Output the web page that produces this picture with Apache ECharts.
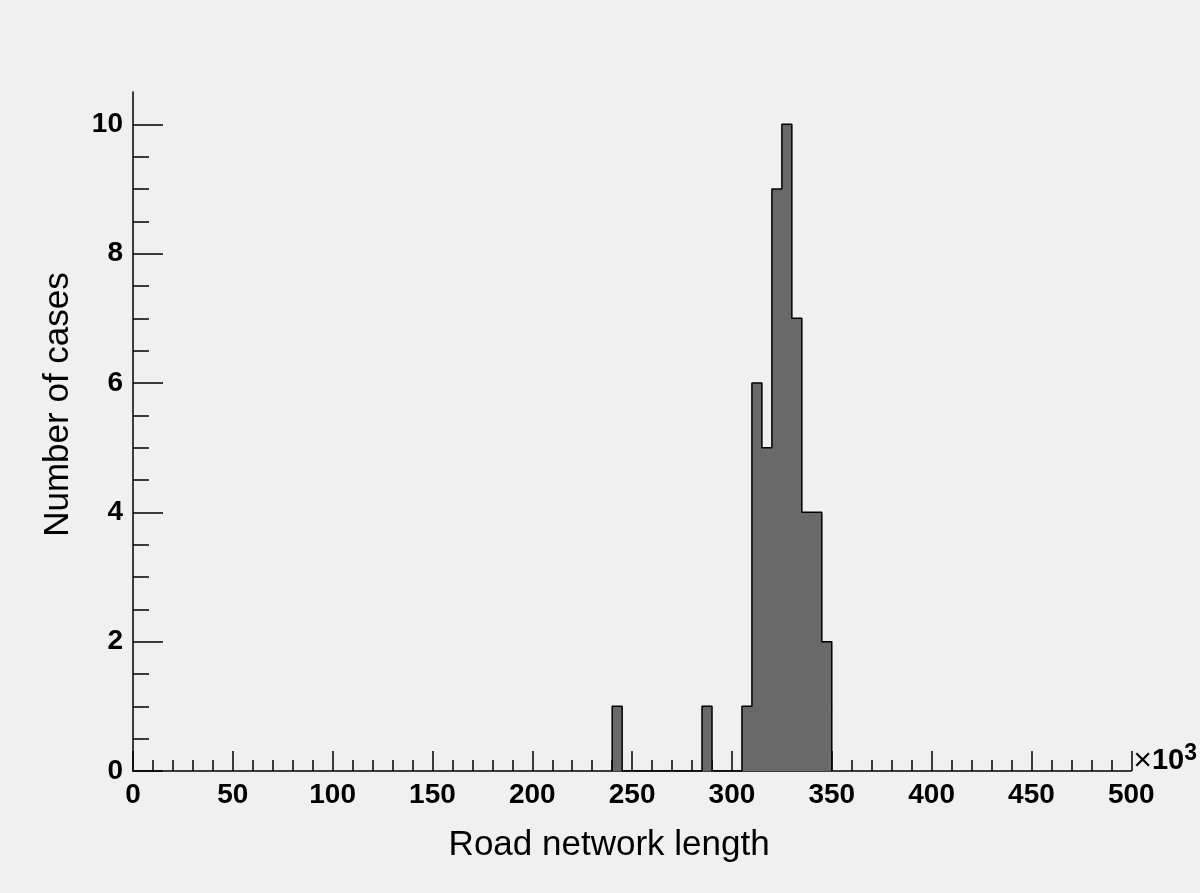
<!DOCTYPE html>
<html>
<head>
<meta charset="utf-8">
<script src="https://cdn.jsdelivr.net/npm/echarts@6/dist/echarts.min.js"></script>
<style>
    html, body { margin: 0; padding: 0; background: #f0f0f0; }
    #main { width: 1200px; height: 893px; }
</style>
</head>
<body>
<div id="main"></div>
<script>
    // histogram bins (x in units of 10^3), bin width 5
    const binWidth = 5
    const binLow = [240, 245, 250, 255, 260, 265, 270, 275, 280, 285, 290, 295, 300,
                    305, 310, 315, 320, 325, 330, 335, 340, 345]
    const counts = [1, 0, 0, 0, 0, 0, 0, 0, 0, 1, 0, 0, 0,
                    1, 6, 5, 9, 10, 7, 4, 4, 2]
    const yMajor = [0, 2, 4, 6, 8, 10]
    const yMinor = [0.5, 1, 1.5, 2.5, 3, 3.5, 4.5, 5, 5.5, 6.5, 7, 7.5, 8.5, 9, 9.5]

    // step outline: start at 0, one point per bin, close at last edge
    let stepData = [[binLow[0], 0]]
    binLow.forEach((x, i) => stepData.push([x, counts[i]]))
    stepData.push([binLow[binLow.length - 1] + binWidth, 0])

    const font = 'Liberation Sans, Arial, sans-serif'
    const labelStyle = { color: '#000', fontSize: 28, fontWeight: 'bold', fontFamily: font }
    const tickLine = { color: '#000', width: 1.5 }

    let chart = echarts.init(document.getElementById('main'))
    chart.setOption({
        backgroundColor: '#f0f0f0',
        animation: false,
        grid: { left: 133, right: 67, top: 92, bottom: 122 },
        xAxis: [
            {
                type: 'value',
                min: 0,
                max: 500,
                interval: 50,
                name: '{x|×}{b|10}{s|3}',
                nameLocation: 'end',
                nameGap: 2,
                nameTextStyle: {
                    verticalAlign: 'middle',
                    align: 'left',
                    padding: [0, 0, 20, 0],
                    rich: {
                        x: { fontSize: 32, fontFamily: font, color: '#000' },
                        b: { fontSize: 29, fontWeight: 'bold', fontFamily: font, color: '#000' },
                        s: { fontSize: 23, fontWeight: 'bold', fontFamily: font, color: '#000', verticalAlign: 'top', padding: [0, 0, 14, 0] }
                    }
                },
                axisLine: { onZero: false, lineStyle: tickLine },
                axisTick: { inside: true, length: 20, lineStyle: tickLine },
                minorTick: { show: true, splitNumber: 5, length: 11, lineStyle: tickLine },
                axisLabel: Object.assign({ margin: 10 }, labelStyle),
                splitLine: { show: false }
            },
            {
                // carries only the axis title
                type: 'value',
                min: 0,
                max: 500,
                position: 'bottom',
                name: 'Road network length',
                nameLocation: 'middle',
                nameGap: 57,
                nameTextStyle: { color: '#000', fontSize: 35, fontFamily: font, padding: [0, 46, 0, 0] },
                axisLine: { show: false },
                axisTick: { show: false },
                axisLabel: { show: false },
                splitLine: { show: false }
            }
        ],
        yAxis: [
            {
                type: 'value',
                min: 0,
                max: 10.5,
                position: 'left',
                name: 'Number of cases',
                nameLocation: 'middle',
                nameGap: 57,
                nameTextStyle: { color: '#000', fontSize: 35, fontFamily: font, padding: [0, 0, 0, 54] },
                axisLine: { show: true, onZero: false, lineStyle: tickLine },
                axisTick: { show: true, inside: true, length: 30, customValues: yMajor, lineStyle: tickLine },
                axisLabel: Object.assign({ margin: 10, customValues: yMajor }, labelStyle),
                splitLine: { show: false }
            },
            {
                type: 'value',
                min: 0,
                max: 10.5,
                position: 'left',
                axisLine: { show: false },
                axisTick: { show: true, inside: true, length: 16, customValues: yMinor, lineStyle: tickLine },
                axisLabel: { show: false },
                splitLine: { show: false }
            }
        ],
        series: [
            {
                type: 'line',
                step: 'end',
                data: stepData,
                showSymbol: false,
                silent: true,
                lineStyle: { color: '#000', width: 1.5 },
                areaStyle: { color: '#696969', opacity: 1 }
            }
        ]
    })
</script>
</body>
</html>
